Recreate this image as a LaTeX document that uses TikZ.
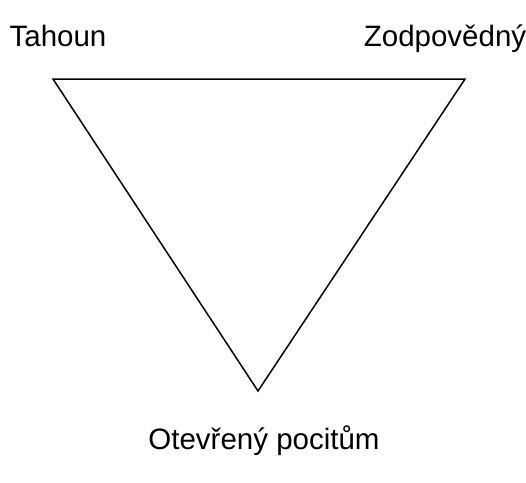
\documentclass[tikz,border=0pt]{standalone}
\usepackage{fontspec}
\setmainfont{Liberation Sans}
\usepackage{tikz}
\usetikzlibrary{positioning}
\tikzset{
  lab/.style={font=\fontsize{29.5}{34}\selectfont,anchor=base,inner sep=0pt},
  edge/.style={draw=black,line width=1.5pt,line join=miter},
}

\begin{document}
\begin{tikzpicture}[x=1pt,y=-1pt]
\useasboundingbox (0,0) rectangle (526,482);
\coordinate (tl) at (53,79);
\coordinate (tr) at (465,79);
\coordinate (bt) at (258,391);
\draw[edge] (tl)--(tr)--(bt)--cycle;
\node[lab] (tah) at (58,46) {Tahoun};
\node[lab] (zod) at (445,46) {Zodpovědný};
\node[lab] (ote) at (264,449) {Otevřený pocitům};
\end{tikzpicture}
\end{document}
